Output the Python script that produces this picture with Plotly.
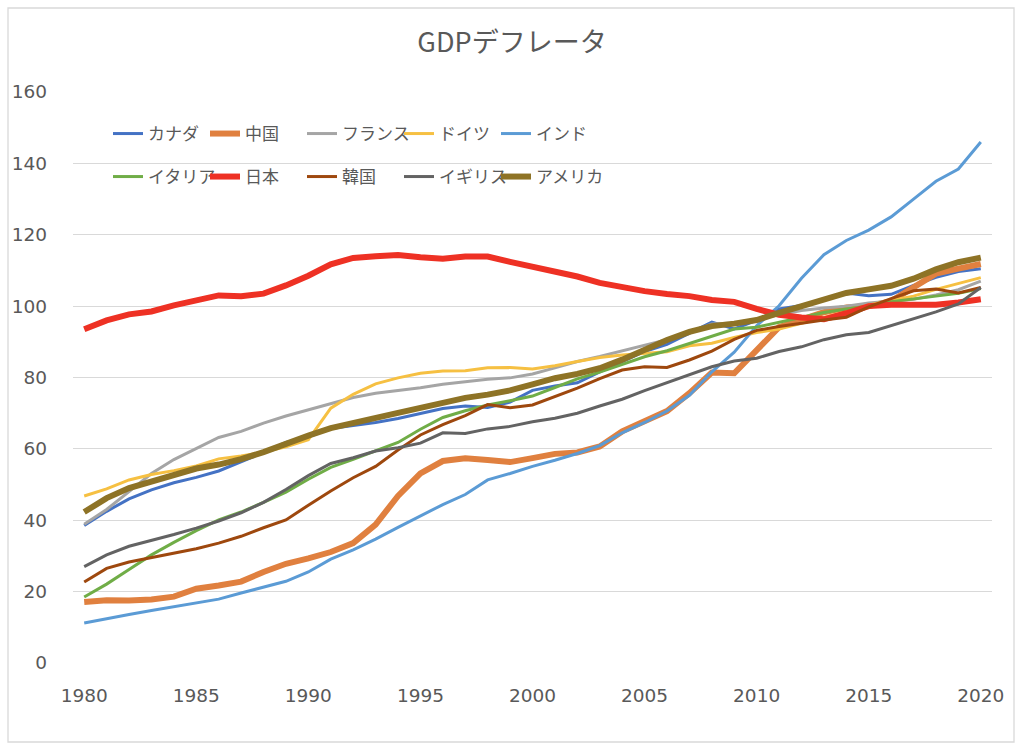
import plotly.graph_objects as go

years = list(range(1980, 2021))

canada = [38.5, 42.5, 46.0, 48.5, 50.5, 52.0, 53.8, 56.3, 59.0, 61.8, 63.4, 65.7, 66.5, 67.4, 68.5, 70.0, 71.3, 72.0, 71.6, 73.1, 76.4, 77.6, 78.5, 81.6, 84.5, 87.3, 89.3, 92.3, 95.5, 93.6, 96.0, 99.2, 100.2, 101.6, 103.7, 102.9, 103.3, 105.8, 108.1, 109.7, 110.5]
china = [17.1, 17.6, 17.5, 17.8, 18.6, 20.8, 21.7, 22.8, 25.5, 27.8, 29.3, 31.1, 33.6, 38.8, 46.8, 53.1, 56.6, 57.4, 56.9, 56.3, 57.4, 58.6, 59.0, 60.7, 64.9, 67.8, 70.6, 75.6, 81.4, 81.2, 87.6, 94.1, 96.2, 98.3, 99.6, 100.0, 101.4, 105.4, 109.1, 110.5, 111.8]
france = [38.9, 43.0, 48.0, 53.1, 57.0, 60.1, 63.2, 64.9, 67.2, 69.2, 70.9, 72.8, 74.4, 75.6, 76.3, 77.1, 78.1, 78.8, 79.5, 79.9, 81.0, 82.7, 84.5, 85.9, 87.4, 88.9, 90.6, 92.6, 95.0, 95.3, 96.3, 97.6, 98.8, 99.5, 100.0, 100.9, 101.4, 101.9, 103.1, 104.6, 107.0]
germany = [46.8, 48.8, 51.3, 52.8, 53.9, 55.2, 57.2, 58.0, 59.1, 60.6, 62.6, 71.4, 75.3, 78.2, 79.9, 81.2, 81.8, 81.9, 82.7, 82.8, 82.4, 83.3, 84.5, 85.6, 86.3, 86.7, 87.2, 88.9, 89.6, 91.2, 92.6, 93.6, 95.1, 96.8, 98.5, 100.3, 101.6, 102.8, 104.7, 106.3, 108.0]
india = [11.2, 12.5, 13.6, 14.7, 15.7, 16.8, 17.9, 19.6, 21.2, 22.9, 25.5, 29.1, 31.7, 34.7, 38.0, 41.2, 44.4, 47.2, 51.3, 53.1, 55.1, 56.8, 58.7, 60.9, 64.5, 67.4, 70.6, 75.0, 81.6, 87.1, 94.5, 100.1, 107.8, 114.4, 118.4, 121.3, 125.0, 130.0, 135.0, 138.4, 146.0]
italy = [18.5, 22.1, 26.2, 30.3, 33.8, 37.1, 40.1, 42.3, 45.0, 47.9, 51.5, 54.8, 57.1, 59.5, 61.8, 65.5, 68.8, 70.7, 72.3, 73.5, 74.8, 77.2, 79.6, 81.5, 83.7, 85.8, 87.5, 89.6, 91.7, 93.6, 94.1, 95.4, 96.8, 98.2, 99.2, 100.0, 101.2, 101.9, 102.8, 103.6, 104.9]
japan = [93.5, 96.0, 97.7, 98.5, 100.2, 101.5, 103.0, 102.8, 103.5, 105.8, 108.5, 111.7, 113.5, 114.0, 114.3, 113.7, 113.3, 113.9, 113.9, 112.4, 111.0, 109.8, 108.3, 106.5, 105.3, 104.2, 103.4, 102.8, 101.7, 101.2, 99.2, 97.6, 96.8, 96.3, 98.0, 100.0, 100.4, 100.3, 100.4, 101.0, 101.9]
korea = [22.7, 26.5, 28.3, 29.5, 30.8, 32.0, 33.6, 35.5, 37.9, 40.1, 44.2, 48.2, 51.9, 55.1, 59.7, 63.9, 66.8, 69.3, 72.4, 71.5, 72.3, 74.6, 77.0, 79.7, 82.1, 83.0, 82.8, 84.9, 87.4, 90.7, 93.2, 94.3, 95.3, 96.1, 96.9, 99.8, 102.1, 104.3, 104.8, 103.7, 105.2]
uk = [27.0, 30.3, 32.7, 34.3, 36.0, 37.8, 39.8, 42.1, 45.0, 48.6, 52.5, 55.9, 57.5, 59.4, 60.3, 61.6, 64.5, 64.3, 65.6, 66.3, 67.6, 68.6, 70.0, 72.0, 73.9, 76.3, 78.5, 80.8, 83.0, 84.6, 85.4, 87.3, 88.6, 90.6, 92.0, 92.6, 94.5, 96.4, 98.4, 100.6, 105.2]
usa = [42.3, 46.2, 49.0, 50.9, 52.8, 54.5, 55.6, 57.1, 59.1, 61.5, 63.7, 65.8, 67.1, 68.7, 70.1, 71.5, 72.9, 74.3, 75.2, 76.4, 78.1, 79.8, 81.0, 82.6, 85.0, 87.8, 90.5, 92.8, 94.4, 95.1, 96.1, 98.1, 100.0, 101.8, 103.7, 104.7, 105.7, 107.7, 110.3, 112.3, 113.6]

names = ["カナダ", "中国", "フランス", "ドイツ", "インド", "イタリア", "日本", "韓国", "イギリス", "アメリカ"]
series = [canada, china, france, germany, india, italy, japan, korea, uk, usa]
colors = ["#4472C4", "#E0803F", "#A5A5A5", "#F6C042", "#5B9BD5", "#70AD47", "#EE3124", "#9E480E", "#636363", "#8E7326"]
widths = [3, 6, 3, 3, 3, 3, 6, 3, 3, 6]

FONT = "Noto Sans CJK JP"
NUMFONT = "DejaVu Sans, Noto Sans CJK JP"
TXT = "#595959"

fig = go.Figure()
for i, (n, s, c, w) in enumerate(zip(names, series, colors, widths)):
    fig.add_trace(go.Scatter(
        x=years, y=s, name=n, mode="lines",
        line=dict(color=c, width=w),
        legend="legend" if i < 5 else "legend2",
    ))

# invisible spacer entries so the last legend labels are not clipped
for lg in ["legend", "legend2"]:
    fig.add_trace(go.Scatter(x=[None], y=[None], name=" ", mode="lines",
                             line=dict(color="rgba(0,0,0,0)", width=0),
                             legend=lg, hoverinfo="skip"))

L, R, T, B = 73, 32, 92, 88
W, H = 1024, 751
pw, ph = W - L - R, H - T - B

def px_x(p):
    return (p - L) / pw

def px_y(p):
    return (H - B - p) / ph

leg_common = dict(
    orientation="h", xanchor="left", yanchor="middle",
    font=dict(family=FONT, size=17, color=TXT),
    bgcolor="rgba(0,0,0,0)", entrywidth=52, entrywidthmode="pixels",
    itemclick=False, itemdoubleclick=False,
)

fig.update_layout(
    width=W, height=H,
    margin=dict(l=L, r=R, t=T, b=B),
    paper_bgcolor="white", plot_bgcolor="white",
    font=dict(family=FONT, color=TXT),
    title=dict(text="GDPデフレータ", x=0.5, xanchor="center", y=1 - 43 / H, yanchor="middle",
               font=dict(family=FONT, size=27, color=TXT)),
    xaxis=dict(range=[1979.5, 2020.5], tickvals=list(range(1980, 2021, 5)),
               showgrid=False, zeroline=False, showline=False, ticks="",
               tickfont=dict(family=NUMFONT, size=18.5, color=TXT), ticklabelstandoff=19),
    yaxis=dict(range=[0, 160], dtick=20, showgrid=True, gridcolor="#D9D9D9", gridwidth=1.3,
               zeroline=False, showline=False, ticks="",
               tickfont=dict(family=NUMFONT, size=18.5, color=TXT), ticklabelstandoff=25),
    legend=dict(x=px_x(108), y=px_y(134), **leg_common),
    legend2=dict(x=px_x(108), y=px_y(177), **leg_common),
    showlegend=True,
    shapes=[dict(type="rect", xref="paper", yref="paper",
                 x0=px_x(8), x1=px_x(1014), y0=px_y(742), y1=px_y(8),
                 line=dict(color="#D9D9D9", width=1.3), layer="below")],
)

fig.write_html("out.html", config={"displayModeBar": False},
               post_script="document.body.style.margin='0px';")
